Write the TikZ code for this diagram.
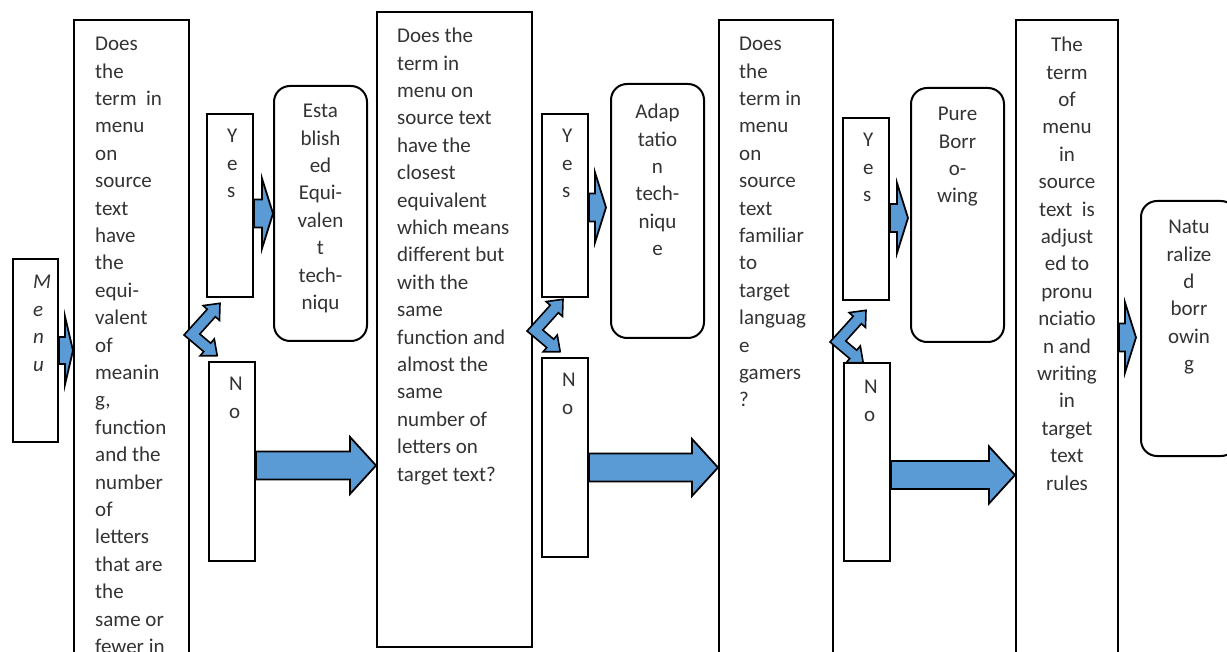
\documentclass[tikz,border=0pt]{standalone}
\usepackage{fontspec}
\setmainfont{Carlito}
\usetikzlibrary{calc}
\definecolor{arrblue}{RGB}{91,155,213}

\begin{document}
\begin{tikzpicture}[x=1pt, y=-1pt,
        box/.style   ={draw=black, line width=2pt, fill=white, inner sep=0pt, anchor=north west},
        rbox/.style  ={box, rounded corners=16pt},
        txt/.style   ={inner sep=0pt, font=\fontsize{21}{27.4}\selectfont, text=black!80,
                execute at begin node={\rule{0pt}{15pt}}},
        ltxt/.style  ={txt, align=left, anchor=north west},
        ctxt/.style  ={txt, align=center, anchor=north},
        barrow/.style n args={3}{draw=black, fill=arrblue, line width=1.8pt, line join=miter,
                to path={let \p1=(\tikztostart), \p2=(\tikztotarget) in
                    (\x1,\y1+#1) -- (\x2-#3,\y1+#1) -- (\x2-#3,\y1+#2) -- (\x2,\y1)
                    -- (\x2-#3,\y1-#2) -- (\x2-#3,\y1-#1) -- (\x1,\y1-#1) -- cycle}},
        smallarr/.style={barrow={14pt}{35pt}{11pt}},
        bigarr/.style  ={barrow={14pt}{28.5pt}{26pt}},
        chev/.style  ={draw=black, fill=arrblue, line width=1.6pt, line join=miter},
        chevron/.pic ={\draw[chev] (0,0) -- (23.2,-25.7) -- (19.1,-29.4) -- (36,-31.7)
                -- (35.5,-14.6) -- (31.4,-18.3) -- (15.8,-1) -- (26.7,8.2) -- (30.3,4)
                -- (33.2,20.7) -- (16.1,20.8) -- (19.7,16.6) -- cycle;}
    ]
    \useasboundingbox (0,0) rectangle (1227,652);
    \clip (0,0) rectangle (1227,652);

    %% ---- boxes ----------------------------------------------------------
    \node[box, minimum width=45pt,  minimum height=183pt] (menu) at (12,258) {};
    \node[box, minimum width=115pt, minimum height=661pt] (q1)   at (73,19) {};
    \node[box, minimum width=46pt,  minimum height=183pt] (yes1) at (206,113) {};
    \node[box, minimum width=46pt,  minimum height=199pt] (no1)  at (208,361) {};
    \node[rbox, minimum width=93pt, minimum height=255pt] (est)  at (273,85) {};
    \node[box, minimum width=155pt, minimum height=635pt] (q2)   at (376,11) {};
    \node[box, minimum width=46pt,  minimum height=183pt] (yes2) at (541,113) {};
    \node[box, minimum width=46pt,  minimum height=199pt] (no2)  at (541,357) {};
    \node[rbox, minimum width=93pt, minimum height=254pt] (adap) at (610,83) {};
    \node[box, minimum width=114pt, minimum height=661pt] (q3)   at (718,19) {};
    \node[box, minimum width=46pt,  minimum height=182pt] (yes3) at (842,117) {};
    \node[box, minimum width=46pt,  minimum height=198pt] (no3)  at (843,362) {};
    \node[rbox, minimum width=93pt, minimum height=254pt] (pure) at (910,87) {};
    \node[box, minimum width=102pt, minimum height=661pt] (q4)   at (1015,19) {};
    \node[rbox, minimum width=96pt, minimum height=255pt] (nat)  at (1140,200) {};

    %% ---- texts ----------------------------------------------------------
    \node[ltxt, font=\fontsize{21}{27.6}\selectfont\itshape] (menut)
        at ([shift={(21,17)}]menu.north west) {M\\e\\n\\u};
    \node[ltxt] (q1t) at ([shift={(22,18)}]q1.north west)
        {Does\\the\\term\ \ in\\menu\\on\\source\\text\\have\\the\\equi-\\valent\\of\\meanin\\g,\\function\\and the\\number\\of\\letters\\that are\\the\\same or\\fewer in};
    \node[ltxt] (yes1t) at ([shift={(21,16)}]yes1.north west) {Y\\e\\s};
    \node[ltxt] (no1t)  at ([shift={(21,16)}]no1.north west) {N\\o};
    \node[ctxt] (estt)  at ([shift={(0,19)}]est.north) {Esta\\blish\\ed\\Equi-\\valen\\t\\tech-\\niqu};
    \node[ltxt] (q2t) at ([shift={(21,17)}]q2.north west)
        {Does the\\term in\\menu on\\source text\\have the\\closest\\equivalent\\which means\\different but\\with the\\same\\function and\\almost the\\same\\number of\\letters on\\target text?};
    \node[ltxt] (yes2t) at ([shift={(21,16)}]yes2.north west) {Y\\e\\s};
    \node[ltxt] (no2t)  at ([shift={(21,16)}]no2.north west) {N\\o};
    \node[ctxt] (adapt) at ([shift={(0,21)}]adap.north) {Adap\\tatio\\n\\tech-\\niqu\\e};
    \node[ltxt] (q3t) at ([shift={(21,18)}]q3.north west)
        {Does\\the\\term in\\menu\\on\\source\\text\\familiar\\to\\target\\languag\\e\\gamers\\?};
    \node[ltxt] (yes3t) at ([shift={(21,16)}]yes3.north west) {Y\\e\\s};
    \node[ltxt] (no3t)  at ([shift={(21,18)}]no3.north west) {N\\o};
    \node[ctxt] (puret) at ([shift={(0,20)}]pure.north) {Pure\\Borr\\o-\\wing};
    \node[ctxt] (q4t) at ([shift={(0,18)}]q4.north)
        {The\\term\\of\\menu\\in\\source\\text\ \ is\\adjust\\ed to\\pronu\\nciatio\\n and\\writing\\in\\target\\text\\rules};
    \node[ctxt] (natt)  at ([shift={(0,20)}]nat.north) {Natu\\ralize\\d\\borr\\owin\\g};

    %% ---- block arrows ---------------------------------------------------
    \draw[barrow={13.5pt}{34pt}{8pt}] (menu.east) to (q1.west);
    \draw[smallarr] ($(yes1.east)+(0,8)$)  to (est.west);
    \draw[bigarr]   ($(no1.east)+(0,4)$)   to (q2.west);
    \draw[smallarr] ($(yes2.east)+(0,2)$)  to ($(adap.west)+(-4,0)$);
    \draw[bigarr]   ($(no2.east)+(0,10)$)  to (q3.west);
    \draw[smallarr] ($(yes3.east)+(0,9)$)  to ($(pure.west)+(-2,0)$);
    \draw[bigarr]   ($(no3.east)+(0,13)$)  to (q4.west);
    \draw[smallarr] ($(q4.east |- nat.west)+(0,9)$) to ($(nat.west)+(-4,0)$);

    %% ---- yes / no forks -------------------------------------------------
    \coordinate (c1) at (184,335);
    \coordinate (c2) at (527,331);
    \coordinate (c3) at (830,342);
    \pic at (c1) {chevron};
    \pic at (c2) {chevron};
    \pic at (c3) {chevron};

\end{tikzpicture}
\end{document}
